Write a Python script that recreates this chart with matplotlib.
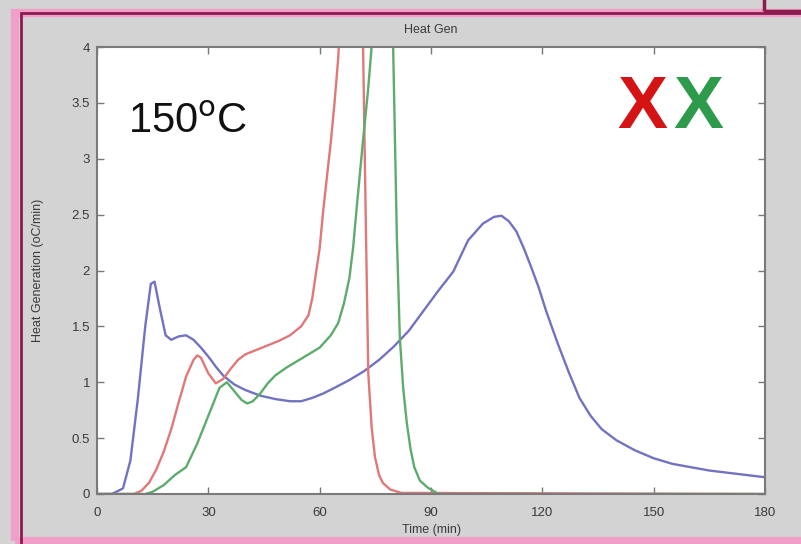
import matplotlib
matplotlib.use("Agg")
import matplotlib.pyplot as plt
from matplotlib.patches import Rectangle

plt.rcParams['font.family'] = ['Liberation Sans', 'DejaVu Sans']

# blue curve
blue_t = [0, 4, 7, 9, 11, 13, 14.5, 15.5, 17, 18.5, 20, 22, 24, 26, 28, 30, 32, 34, 37, 40, 44, 48,
          52, 55, 58, 61, 64, 68, 72, 76, 80, 84, 88, 92, 96, 100, 104, 107, 109, 111, 113, 115,
          117, 119, 121, 124, 127, 130, 133, 136, 140, 145, 150, 155, 160, 165, 170, 175, 180]
blue_y = [0, 0, 0.05, 0.3, 0.85, 1.5, 1.88, 1.9, 1.65, 1.42, 1.38, 1.41, 1.42, 1.38, 1.31, 1.23,
          1.14, 1.06, 0.98, 0.93, 0.88, 0.85, 0.83, 0.83, 0.86, 0.9, 0.95, 1.02, 1.1, 1.2, 1.32,
          1.46, 1.64, 1.82, 1.99, 2.27, 2.42, 2.48, 2.49, 2.44, 2.35, 2.2, 2.03, 1.85, 1.64, 1.36,
          1.1, 0.86, 0.7, 0.58, 0.48, 0.39, 0.32, 0.27, 0.24, 0.21, 0.19, 0.17, 0.15]

# red curve
red_t = [0, 10, 12, 14, 16, 18, 20, 22, 24, 26, 27, 28, 30, 32, 34, 36, 38, 40, 43, 46, 49, 52,
         55, 57, 58, 60, 61, 62, 63, 64, 65, 66, 68, 70, 71.7, 72.4, 73.1, 74, 74.9, 76, 77, 79,
         82, 180]
red_y = [0, 0, 0.03, 0.1, 0.22, 0.38, 0.58, 0.82, 1.05, 1.2, 1.24, 1.22, 1.08, 0.99, 1.03, 1.12,
         1.2, 1.25, 1.29, 1.33, 1.37, 1.42, 1.5, 1.6, 1.75, 2.2, 2.55, 2.85, 3.15, 3.5, 3.9, 4.6,
         6.5, 6.0, 4.0, 2.5, 1.08, 0.6, 0.33, 0.17, 0.1, 0.04, 0.01, 0]

# green curve
green_t = [0, 13, 15, 18, 21, 24, 27, 30, 33, 35, 37, 39, 40.5, 42, 44, 46, 48, 51, 54, 57, 60,
           63, 65, 66.5, 68, 69, 70, 71.7, 73, 74, 76, 78, 79.8, 80.8, 81.6, 82.5, 83.5, 84.5,
           85.5, 87, 89, 92, 180]
green_y = [0, 0, 0.02, 0.08, 0.17, 0.24, 0.45, 0.7, 0.95, 1.0, 0.92, 0.84, 0.81, 0.83, 0.9, 0.99,
           1.06, 1.13, 1.19, 1.25, 1.31, 1.42, 1.53, 1.7, 1.93, 2.2, 2.57, 3.17, 3.6, 4.0, 5.5,
           5.5, 4.0, 2.3, 1.4, 0.95, 0.63, 0.4, 0.24, 0.12, 0.06, 0, 0]

x_ticks = [0, 30, 60, 90, 120, 150, 180]
y_ticks = [0, 0.5, 1, 1.5, 2, 2.5, 3, 3.5, 4]
y_labels = ['0', '0.5', '1', '1.5', '2', '2.5', '3', '3.5', '4']

W, H = 801, 544
fig = plt.figure(figsize=(W / 100, H / 100), dpi=100, facecolor='#d3d3d3')
ax = fig.add_axes([97 / W, 1 - 494 / H, 668 / W, 447 / H])

ax.plot(blue_t, blue_y, color='#7272c2', lw=1.7)
ax.plot(red_t, red_y, color='#e07878', lw=1.7)
ax.plot(green_t, green_y, color='#5cac6c', lw=1.7)

ax.set_xlim(0, 180)
ax.set_ylim(0, 4)
ax.set_xticks(x_ticks)
ax.set_yticks(y_ticks)
ax.set_yticklabels(y_labels)
ax.tick_params(direction='in', length=5, width=1, top=True, right=True, colors='#777777',
               labelcolor='#3a3a3a', labelsize=9.5)
ax.tick_params(axis='x', pad=9)
ax.tick_params(axis='y', pad=5)
for s in ax.spines.values():
    s.set_color('#7a7a7a')
    s.set_linewidth(1.5)

ax.set_title('Heat Gen', fontsize=9, color='#3a3a3a', pad=10)
ax.set_xlabel('Time (min)', fontsize=9, color='#3a3a3a', labelpad=4)
ax.set_ylabel('Heat Generation (oC/min)', fontsize=9, color='#3a3a3a', labelpad=20)

ax.text(8.4, 3.33, r'150$^{\mathrm{o}}$C', fontsize=30, color='#111111', va='center', ha='left')
ax.text(147, 3.45, 'X', fontsize=54, fontweight='bold', color='#d41414', va='center', ha='center')
ax.text(162, 3.45, 'X', fontsize=54, fontweight='bold', color='#2e9a4c', va='center', ha='center')

# window frame
def px_rect(x0, y0, x1, y1, **kw):
    r = Rectangle((x0 / W, 1 - y1 / H), (x1 - x0) / W, (y1 - y0) / H,
                  transform=fig.transFigure, fill=False, **kw)
    fig.patches.append(r)

px_rect(15, 13, 812, 541, edgecolor='#f0a0c8', lw=6)
px_rect(21, 13, 812, 560, edgecolor='#8c1c50', lw=2)
px_rect(764, -10, 812, 11, edgecolor='#8c1c50', lw=2.5)

fig.savefig('out.png', dpi=100, facecolor=fig.get_facecolor())
